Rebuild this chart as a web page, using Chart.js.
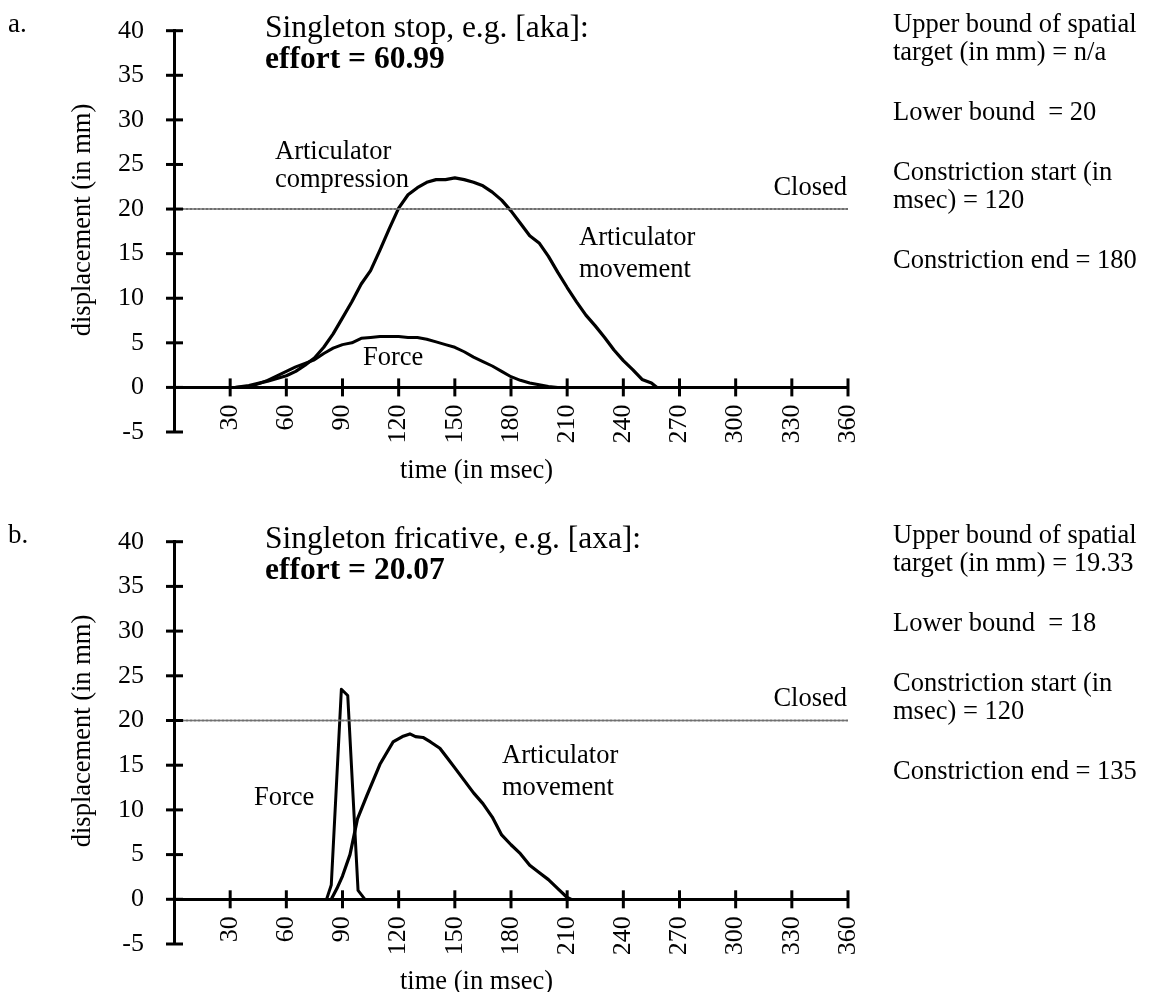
<!DOCTYPE html>
<html><head><meta charset="utf-8">
<script src="https://cdn.jsdelivr.net/npm/chart.js@4/dist/chart.umd.min.js"></script>
<style>
html,body{margin:0;padding:0;background:#fff;}
#wrap{position:relative;width:1150px;height:992px;background:#fff;}
canvas{position:absolute;left:0;}
</style></head><body>
<div id="wrap">
<canvas id="c1" width="1150" height="511" style="top:0px"></canvas>
<canvas id="c2" width="1150" height="481" style="top:511px"></canvas>
</div>
<script>
// ---------------- data ----------------
const yMin = -5, yMax = 40, yStep = 5;
const xMin = 0, xMax = 360;
const xTickValues = [30, 60, 90, 120, 150, 180, 210, 240, 270, 300, 330, 360];
const closedLevel = 20;

// a. Singleton stop [aka]
const stopTime     = [33, 40, 45, 50, 55, 60, 65, 70, 75, 80, 85, 90, 95, 100, 105, 110, 115, 120, 125, 130, 135, 140, 145, 150, 155, 160, 165, 170, 175, 180, 185, 190, 195, 200, 205, 210, 215, 220, 225, 230, 235, 240, 245, 250, 255, 258];
const stopMovement = [0, 0.2, 0.45, 0.7, 1.0, 1.3, 1.8, 2.5, 3.3, 4.5, 6.0, 7.8, 9.6, 11.6, 13.1, 15.4, 17.8, 20.1, 21.6, 22.4, 23.0, 23.3, 23.3, 23.5, 23.3, 23.0, 22.6, 21.9, 21.0, 19.8, 18.4, 17.0, 16.2, 14.7, 12.9, 11.2, 9.6, 8.1, 6.9, 5.6, 4.2, 3.0, 2.0, 0.9, 0.5, 0];
const stopForceTime = [33, 40, 45, 50, 55, 60, 65, 70, 75, 80, 85, 90, 95, 100, 105, 110, 115, 120, 125, 130, 135, 140, 145, 150, 155, 160, 165, 170, 175, 180, 185, 190, 195, 200, 205];
const stopForce     = [0, 0.1, 0.4, 0.8, 1.3, 1.8, 2.3, 2.7, 3.1, 3.8, 4.4, 4.8, 5.0, 5.5, 5.6, 5.7, 5.7, 5.7, 5.6, 5.6, 5.4, 5.1, 4.8, 4.5, 4.0, 3.4, 2.9, 2.4, 1.8, 1.2, 0.8, 0.5, 0.3, 0.1, 0];

// b. Singleton fricative [axa]
const fricTime     = [84, 87, 90, 94, 98, 103, 110, 117, 122, 126, 129, 133, 137, 142, 146, 150, 155, 160, 165, 170, 175, 180, 185, 190, 195, 200, 205, 210, 212];
const fricMovement = [0, 1.2, 2.6, 5.0, 9.0, 11.6, 15.1, 17.6, 18.2, 18.5, 18.2, 18.1, 17.6, 16.9, 15.8, 14.7, 13.3, 11.9, 10.7, 9.2, 7.2, 6.1, 5.1, 3.8, 3.0, 2.2, 1.2, 0.2, 0];
const fricForceTime = [81.5, 84, 89.4, 92.8, 98.3, 102];
const fricForce     = [0, 1.6, 23.5, 22.8, 1.0, 0];

const stopTitle = ["Singleton stop, e.g. [aka]:", "effort = 60.99"];
const fricTitle = ["Singleton fricative, e.g. [axa]:", "effort = 20.07"];
const stopInfo = ["Upper bound of spatial", "target (in mm) = n/a", "Lower bound  = 20", "Constriction start (in", "msec) = 120", "Constriction end = 180"];
const fricInfo = ["Upper bound of spatial", "target (in mm) = 19.33", "Lower bound  = 18", "Constriction start (in", "msec) = 120", "Constriction end = 135"];

// ---------------- rendering ----------------
const FAM = '"Liberation Serif", "Times New Roman", Times, serif';
const f = (size, bold) => (bold ? 'bold ' : '') + size + 'px ' + FAM;

const decor = {
  id: 'decor',
  afterDraw(chart, args, opts) {
    const ctx = chart.ctx;
    const xs = chart.scales.x, ys = chart.scales.y;
    const axisX = ys.right;
    const y0 = ys.getPixelForValue(0);
    ctx.save();
    ctx.strokeStyle = '#000';
    ctx.lineWidth = 3;
    ys.ticks.forEach(t => {
      const p = ys.getPixelForValue(t.value);
      ctx.beginPath(); ctx.moveTo(axisX - 8, p); ctx.lineTo(axisX + 9, p); ctx.stroke();
    });
    xs.ticks.forEach(t => {
      const p = xs.getPixelForValue(t.value);
      ctx.beginPath(); ctx.moveTo(p, y0 - 9); ctx.lineTo(p, y0 + 9); ctx.stroke();
    });
    ctx.fillStyle = '#000';
    opts.texts.forEach(t => {
      ctx.save();
      ctx.font = t.font;
      ctx.textAlign = t.align || 'left';
      ctx.textBaseline = t.baseline || 'alphabetic';
      ctx.translate(t.x, t.y);
      if (t.rot) ctx.rotate(t.rot);
      ctx.fillText(t.text, 0, 0);
      ctx.restore();
    });
    ctx.restore();
  }
};

function pts(xs, ys) { return xs.map((x, i) => ({x: x, y: ys[i]})); }

function makeChart(id, bottomPad, moveT, moveV, forceT, forceV, texts) {
  return new Chart(document.getElementById(id), {
    type: 'line',
    data: {
      datasets: [
        { label: 'Closed', data: pts([xMin, xMax], [closedLevel, closedLevel]), borderColor: '#6e6e6e', borderWidth: 2, borderDash: [2, 2] },
        { label: 'Force', data: pts(forceT, forceV), borderColor: '#000', borderWidth: 3 },
        { label: 'Articulator movement', data: pts(moveT, moveV), borderColor: '#000', borderWidth: 3.2 }
      ]
    },
    options: {
      responsive: false,
      animation: false,
      devicePixelRatio: 1,
      layout: { padding: { left: 68, right: 302, top: 30.7, bottom: bottomPad } },
      elements: { point: { radius: 0 }, line: { tension: 0, borderCapStyle: 'round', borderJoinStyle: 'round' } },
      plugins: { legend: { display: false }, tooltip: { enabled: false }, decor: { texts: texts } },
      scales: {
        x: {
          type: 'linear', position: { y: 0 }, min: xMin, max: xMax,
          afterBuildTicks: s => { s.ticks = xTickValues.map(v => ({ value: v })); },
          ticks: { minRotation: 90, maxRotation: 90, padding: 17, color: '#000', font: { family: FAM, size: 26 } },
          grid: { display: false, drawTicks: false },
          border: { display: true, color: '#000', width: 3 }
        },
        y: {
          type: 'linear', position: 'left', min: yMin, max: yMax,
          ticks: { stepSize: yStep, padding: 30, color: '#000', font: { family: FAM, size: 26 } },
          grid: { display: false, drawTicks: false },
          border: { display: true, color: '#000', width: 3 },
          afterFit: s => { s.width = 106; s.paddingTop = 0; s.paddingBottom = 0; }
        }
      }
    },
    plugins: [decor]
  });
}

function textsFor(letter, title, info, extra) {
  const t = [
    { text: letter, x: 8, y: 32, font: f(27) },
    { text: title[0], x: 265, y: 37, font: f(31.5) },
    { text: title[1], x: 265, y: 68, font: f(31.5, true) },
    { text: 'Closed', x: 847, y: 195, font: f(26.5), align: 'right' },
    { text: 'displacement (in mm)', x: 83.5, y: 220, font: f(26.5), align: 'center', baseline: 'middle', rot: -Math.PI / 2 },
    { text: 'time (in msec)', x: 400, y: 478, font: f(26.5) }
  ];
  const ys = [32, 60, 120, 180, 208, 268];
  info.forEach((s, i) => t.push({ text: s, x: 893, y: ys[i], font: f(26.5) }));
  return t.concat(extra);
}

makeChart('c1', 511 - 432, stopTime, stopMovement, stopForceTime, stopForce,
  textsFor('a.', stopTitle, stopInfo, [
    { text: 'Articulator', x: 275, y: 159, font: f(26.5) },
    { text: 'compression', x: 275, y: 187, font: f(26.5) },
    { text: 'Articulator', x: 579, y: 245, font: f(26.5) },
    { text: 'movement', x: 579, y: 277, font: f(26.5) },
    { text: 'Force', x: 363, y: 365, font: f(26.5) }
  ]));

makeChart('c2', 481 - 433, fricTime, fricMovement, fricForceTime, fricForce,
  textsFor('b.', fricTitle, fricInfo, [
    { text: 'Force', x: 254, y: 294, font: f(26.5) },
    { text: 'Articulator', x: 502, y: 252, font: f(26.5) },
    { text: 'movement', x: 502, y: 284, font: f(26.5) }
  ]));
</script>
</body></html>
